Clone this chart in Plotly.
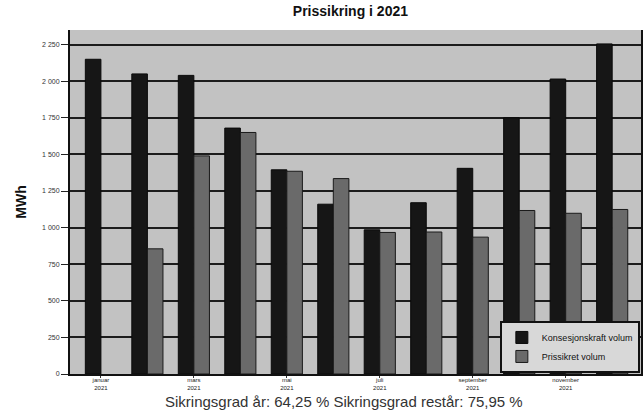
import plotly.graph_objects as go

months = ["januar 2021", "februar 2021", "mars 2021", "april 2021", "mai 2021", "juni 2021",
          "juli 2021", "august 2021", "september 2021", "oktober 2021", "november 2021", "desember 2021"]
tick_months = months[::2]
tick_labels = ["januar<br>2021", "mars<br>2021", "mai<br>2021", "juli<br>2021", "september<br>2021", "november<br>2021"]

konsesjon = [2150, 2050, 2040, 1680, 1395, 1160, 985, 1170, 1405, 1750, 2015, 2255]
prissikret = [None, 855, 1490, 1650, 1385, 1335, 967, 970, 935, 1117, 1098, 1124]

y_ticks = [0, 250, 500, 750, 1000, 1250, 1500, 1750, 2000, 2250]

fig = go.Figure()
fig.add_trace(go.Bar(x=months, y=konsesjon, name="Konsesjonskraft volum",
                     marker=dict(color="#161616", line=dict(color="#0a0a0a", width=1))))
fig.add_trace(go.Bar(x=months, y=prissikret, name="Prissikret volum",
                     marker=dict(color="#6a6a6a", line=dict(color="#1a1a1a", width=1))))

fig.update_layout(
    width=643, height=414,
    margin=dict(l=70, r=0, t=30, b=40),
    paper_bgcolor="white",
    plot_bgcolor="#c2c2c2",
    separators=", ",
    barmode="group",
    bargap=0.33,
    bargroupgap=0.0,
    font=dict(family="Liberation Sans, Arial, sans-serif", color="#222"),
    title=dict(text="<b>Prissikring i 2021</b>", x=0.545, xanchor="center", y=0.985, yanchor="top",
               font=dict(size=14, color="#111")),
    legend=dict(x=0.998, xanchor="right", y=0.003, yanchor="bottom",
                bgcolor="#d8d8d8", bordercolor="#111", borderwidth=2,
                font=dict(size=9, color="#111"), tracegroupgap=0,
                itemwidth=30),
    xaxis=dict(categoryorder="array", categoryarray=months,
               range=[-0.665, 11.62],
               tickmode="array", tickvals=tick_months, ticktext=tick_labels,
               tickfont=dict(size=6, color="#222"),
               ticklabelstandoff=-3,
               showgrid=False, showline=True, linecolor="#111", linewidth=2,
               ticks="outside", ticklen=2, tickcolor="#333"),
    yaxis=dict(range=[0, 2350], tickmode="array", tickvals=y_ticks,
               tickformat=",d", tickfont=dict(size=7, color="#333"),
               showgrid=True, gridcolor="#1c1c1c", gridwidth=2,
               showline=True, linecolor="#111", linewidth=2, mirror=True,
               ticks="outside", ticklen=7, tickcolor="#222",
               zeroline=False,
               title=dict(text="<b>MWh</b>", font=dict(size=14, color="#111"), standoff=12)),
    showlegend=True,
)

fig.add_annotation(text="Sikringsgrad år: 64,25 % Sikringsgrad restår: 75,95 %",
                   xref="paper", yref="paper", x=0.48, y=-0.11, xanchor="center", yanchor="bottom",
                   showarrow=False, font=dict(size=15, color="#333"))

fig.write_html("out.html", config={"displayModeBar": False},
               post_script="document.body.style.margin='0';document.body.style.overflow='hidden';")
